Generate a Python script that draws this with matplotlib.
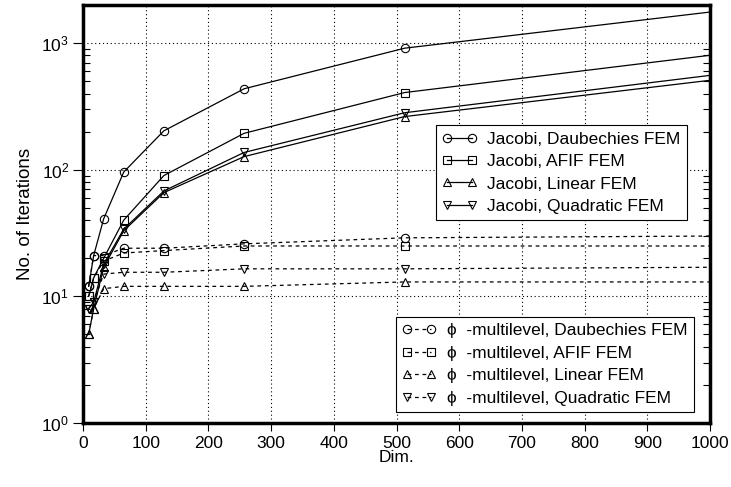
import matplotlib
matplotlib.use("Agg")
import matplotlib.pyplot as plt
from matplotlib.ticker import LogLocator, NullFormatter, FixedLocator

plt.rcParams['font.family'] = ['Liberation Sans', 'DejaVu Sans']
plt.rcParams['mathtext.default'] = 'regular'

# Data
dims = [9, 17, 33, 65, 129, 257, 513, 1025]

jac_daub = [12, 21, 41, 96, 203, 436, 912, 1820]
jac_afif = [10, 14, 20, 40, 90, 194, 407, 830]
jac_lin = [5, 8, 17, 33, 66, 127, 263, 526]
jac_quad = [8, 9, 18, 34, 68, 137, 282, 576]

ml_daub = [12, 21, 21, 24, 24, 26, 29, 30]
ml_afif = [10, 14, 19, 22, 23, 25, 25, 25]
ml_lin = [5, 8, 11.5, 12, 12, 12, 13, 13]
ml_quad = [8, 9, 15, 15.5, 15.5, 16.5, 16.5, 17]

jac_labels = ["Jacobi, Daubechies FEM", "Jacobi, AFIF FEM",
              "Jacobi, Linear FEM", "Jacobi, Quadratic FEM"]
ml_labels = ["\u03d5  -multilevel, Daubechies FEM", "\u03d5  -multilevel, AFIF FEM",
             "\u03d5  -multilevel, Linear FEM", "\u03d5  -multilevel, Quadratic FEM"]
markers = ['o', 's', '^', 'v']

fig = plt.figure(figsize=(7.31, 4.87), dpi=100)
ax = fig.add_axes([83 / 731, 1 - 423 / 487, (710 - 83) / 731, (423 - 5) / 487])

common = dict(color='black', markerfacecolor='none', markeredgecolor='black',
              markersize=6, markeredgewidth=0.8, linewidth=0.9, clip_on=True)

jac_handles = []
for ys, m, lab in zip([jac_daub, jac_afif, jac_lin, jac_quad], markers, jac_labels):
    h, = ax.plot(dims, ys, marker=m, linestyle='-', label=lab, **common)
    jac_handles.append(h)

ml_handles = []
for ys, m, lab in zip([ml_daub, ml_afif, ml_lin, ml_quad], markers, ml_labels):
    h, = ax.plot(dims, ys, marker=m, linestyle=(0, (3, 3)), label=lab, **common)
    ml_handles.append(h)

ax.set_yscale('log')
ax.set_xlim(0, 1000)
ax.set_ylim(1, 2000)
ax.xaxis.set_major_locator(FixedLocator(range(0, 1001, 100)))
ax.yaxis.set_major_locator(FixedLocator([1, 10, 100, 1000]))
ax.yaxis.set_minor_locator(LogLocator(base=10, subs=range(2, 10)))
ax.yaxis.set_minor_formatter(NullFormatter())

ax.grid(True, which='major', color='black', linestyle=(0, (1, 2.5)), linewidth=0.8)

for s in ax.spines.values():
    s.set_linewidth(2.5)

ax.tick_params(axis='x', which='major', direction='out', length=6, width=0.8,
               labelsize=12.5, pad=3)
ax.tick_params(axis='y', which='major', direction='out', length=7, width=0.8,
               labelsize=12.5, left=True, right=False, pad=3)
ax.tick_params(axis='y', which='minor', direction='in', length=5, width=0.8,
               left=True, right=True)

ax.set_xlabel("Dim.", fontsize=12.5, labelpad=0)
ax.set_ylabel("No. of Iterations", fontsize=13.5, labelpad=5)

leg_kw = dict(frameon=True, fancybox=False, framealpha=1, edgecolor='black',
              fontsize=12.5, handlelength=2.0, numpoints=2, labelspacing=0.42,
              borderpad=0.35, handletextpad=0.6, borderaxespad=0)

leg1 = ax.legend(handles=jac_handles, loc='upper left', bbox_to_anchor=(0.563, 0.712),
                 **leg_kw)
leg1.get_frame().set_linewidth(0.8)
ax.add_artist(leg1)

leg2 = ax.legend(handles=ml_handles, loc='lower left', bbox_to_anchor=(0.499, 0.027),
                 **leg_kw)
leg2.get_frame().set_linewidth(0.8)

fig.savefig("out.png", dpi=100)
